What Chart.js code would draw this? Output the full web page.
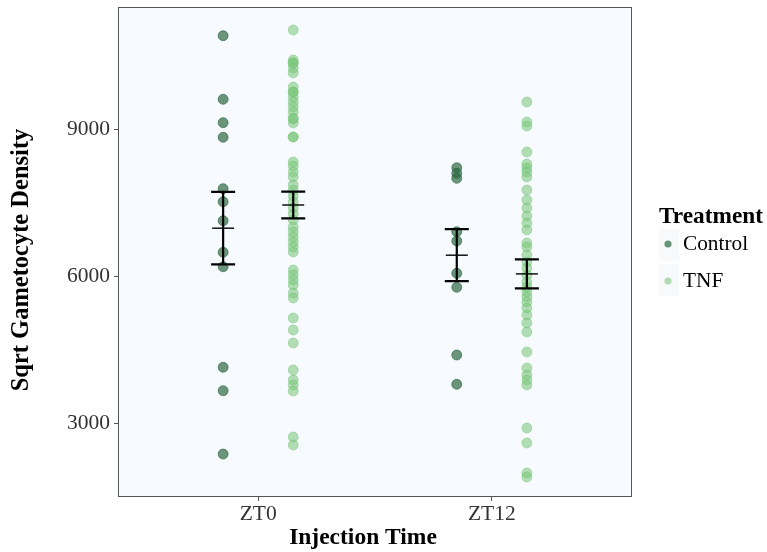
<!DOCTYPE html>
<html>
<head>
<meta charset="utf-8">
<script src="https://cdn.jsdelivr.net/npm/chart.js@4.4.1/dist/chart.umd.min.js"></script>
<style>
  html, body { margin: 0; padding: 0; background: #ffffff; }
  #wrap { width: 767px; height: 552px; }
</style>
</head>
<body>
<div id="wrap"><canvas id="chart" width="767" height="552"></canvas></div>
<script>
// Categories and legend entries
const injectionTimes = ['ZT0', 'ZT12'];
const treatments = ['Control', 'TNF'];
const yTickValues = [3000, 6000, 9000];

// Sqrt gametocyte density per mouse
const controlZT0 = [10904, 9606, 9129, 8831, 7782, 7516, 7129, 6484, 6190, 4137, 3659, 2367];
const tnfZT0 = [11020, 10408, 10347, 10347, 10245, 10143, 9857, 9755, 9755, 9653, 9551, 9449,
  9347, 9224, 9204, 9122, 8837, 8837, 8327, 8245, 8122, 8020, 7857, 7755, 7633, 7510, 7388,
  7265, 7143, 7000, 6898, 6796, 6694, 6592, 6490, 6122, 6020, 5918, 5816, 5653, 5551, 5143,
  4898, 4633, 4082, 3878, 3776, 3653, 2714, 2551];
const controlZT12 = [8210, 8096, 7994, 6904, 6714, 6055, 5769, 4388, 3790];
const tnfZT12 = [9551, 9143, 9061, 8531, 8286, 8204, 8122, 8020, 7755, 7551, 7388, 7224, 7082,
  6939, 6673, 6592, 6429, 6286, 6163, 6020, 5878, 5776, 5673, 5571, 5469, 5347, 5204, 5041,
  4857, 4449, 4122, 3980, 3878, 3776, 2898, 2592, 1980, 1898];

// Group means and standard errors (ZT0, ZT12)
const controlMean = [6976, 6425];
const controlSE = [740, 530];
const tnfMean = [7449, 6043];
const tnfSE = [272, 296];

const SERIF = "'Liberation Serif', 'Times New Roman', serif";
const DODGE = 0.15;
const COLORS = {
  Control: { fill: 'rgba(38, 100, 60, 0.68)', edge: 'rgba(38, 95, 58, 0.75)' },
  TNF: { fill: 'rgba(120, 196, 120, 0.55)', edge: 'rgba(120, 196, 120, 0.6)' }
};

function points(values, groupIndex, offset) {
  return values.map(v => ({ x: groupIndex + 1 + offset, y: v }));
}

const datasets = [
  { label: 'Control', data: points(controlZT0, 0, -DODGE).concat(points(controlZT12, 1, -DODGE)), color: COLORS.Control },
  { label: 'TNF', data: points(tnfZT0, 0, DODGE).concat(points(tnfZT12, 1, DODGE)), color: COLORS.TNF }
].map(d => ({
  label: d.label,
  data: d.data,
  backgroundColor: d.color.fill,
  borderColor: d.color.edge,
  borderWidth: 0.8,
  pointRadius: 5,
  pointHoverRadius: 5
}));

const summaries = [
  { mean: controlMean, se: controlSE, offset: -DODGE },
  { mean: tnfMean, se: tnfSE, offset: DODGE }
];

const panelPlugin = {
  id: 'panel',
  beforeDraw(chart) {
    const { ctx, chartArea: a } = chart;
    ctx.save();
    ctx.fillStyle = '#ffffff';
    ctx.fillRect(0, 0, chart.width, chart.height);
    ctx.fillStyle = '#F7FBFF';
    ctx.fillRect(a.left, a.top, a.right - a.left, a.bottom - a.top);
    ctx.restore();
  },
  afterDatasetsDraw(chart) {
    const { ctx, scales: { x, y } } = chart;
    ctx.save();
    ctx.strokeStyle = '#000000';
    summaries.forEach(s => {
      s.mean.forEach((m, i) => {
        const cx = x.getPixelForValue(i + 1 + s.offset);
        const half = 12;
        const yTop = y.getPixelForValue(m + s.se[i]);
        const yBot = y.getPixelForValue(m - s.se[i]);
        const yMid = y.getPixelForValue(m);
        ctx.lineWidth = 2.2;
        ctx.beginPath();
        ctx.moveTo(cx, yTop); ctx.lineTo(cx, yBot);
        ctx.moveTo(cx - half, yTop); ctx.lineTo(cx + half, yTop);
        ctx.moveTo(cx - half, yBot); ctx.lineTo(cx + half, yBot);
        ctx.stroke();
        ctx.lineWidth = 1.4;
        ctx.beginPath();
        ctx.moveTo(cx - 11, yMid); ctx.lineTo(cx + 11, yMid);
        ctx.stroke();
      });
    });
    ctx.restore();
  },
  afterDraw(chart) {
    const { ctx, chartArea: a } = chart;
    ctx.save();
    // panel border
    ctx.strokeStyle = '#555555';
    ctx.lineWidth = 1;
    ctx.strokeRect(a.left + 0.5, a.top + 0.5, a.right - a.left - 1, a.bottom - a.top - 1);

    // axis titles
    ctx.fillStyle = '#000000';
    ctx.textAlign = 'center';
    ctx.textBaseline = 'middle';
    ctx.font = `bold 23.5px ${SERIF}`;
    ctx.fillText('Injection Time', 363, 538);
    ctx.save();
    ctx.translate(22, 260);
    ctx.rotate(-Math.PI / 2);
    ctx.font = `bold 24.5px ${SERIF}`;
    ctx.fillText('Sqrt Gametocyte Density', 0, 0);
    ctx.restore();

    // legend
    ctx.textAlign = 'left';
    ctx.font = `bold 23.3px ${SERIF}`;
    ctx.fillText('Treatment', 659, 217);
    ctx.fillStyle = '#F7F9FB';
    ctx.fillRect(659, 229, 20, 32);
    ctx.fillRect(659, 264, 20, 32);
    ctx.font = `21.3px ${SERIF}`;
    treatments.forEach((t, i) => {
      const cy = 244 + i * 37;
      ctx.beginPath();
      ctx.arc(668, cy, 3.6, 0, Math.PI * 2);
      ctx.fillStyle = COLORS[t].fill;
      ctx.fill();
      ctx.fillStyle = '#000000';
      ctx.fillText(t, 683, cy);
    });
    ctx.restore();
  }
};

new Chart(document.getElementById('chart'), {
  type: 'scatter',
  data: { datasets },
  options: {
    responsive: false,
    animation: false,
    devicePixelRatio: 1,
    layout: { padding: { left: 0, right: 135, top: 7, bottom: 0 } },
    plugins: { legend: { display: false }, tooltip: { enabled: false } },
    scales: {
      x: {
        type: 'linear',
        min: 0.4,
        max: 2.6,
        afterBuildTicks: s => { s.ticks = injectionTimes.map((_, i) => ({ value: i + 1 })); },
        afterFit: s => { s.height = 55; s.paddingLeft = 0; s.paddingRight = 0; },
        ticks: {
          callback: v => injectionTimes[v - 1],
          font: { family: SERIF, size: 21.5 },
          color: '#333333',
          padding: 0,
          maxRotation: 0
        },
        grid: { drawOnChartArea: false, drawTicks: true, tickLength: 4, color: '#555555' },
        border: { display: false }
      },
      y: {
        min: 1490,
        max: 11490,
        afterBuildTicks: s => { s.ticks = yTickValues.map(v => ({ value: v })); },
        afterFit: s => { s.width = 118; s.paddingTop = 0; s.paddingBottom = 0; },
        ticks: {
          callback: v => String(v),
          font: { family: SERIF, size: 21.5 },
          color: '#333333',
          padding: 4
        },
        grid: { drawOnChartArea: false, drawTicks: true, tickLength: 4, color: '#555555' },
        border: { display: false }
      }
    }
  },
  plugins: [panelPlugin]
});
</script>
</body>
</html>
